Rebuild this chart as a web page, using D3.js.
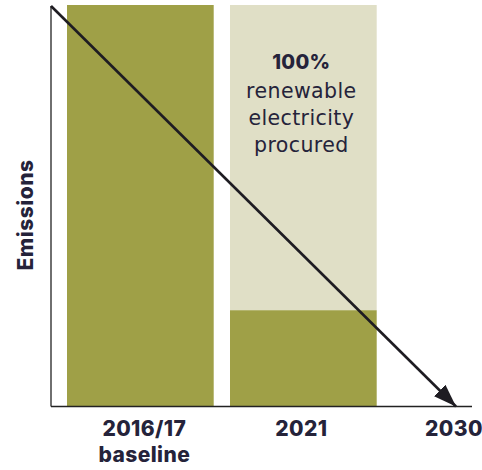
<!DOCTYPE html>
<html>
<head>
<meta charset="utf-8">
<script src="https://cdn.jsdelivr.net/npm/d3@7"></script>
<style>
  body { margin: 0; background: #fff; }
  text { font-family: "Inter", "Open Sans", sans-serif; fill: #25233a; }
</style>
</head>
<body>
<div id="chart"></div>
<script>
// data
var barCategories = ["2016/17", "2021"]
var emissionsLeft = [100, 24]      // remaining emissions (dark)
var renewableShare = [0, 76]       // covered by renewable electricity (light)
var tickLabels = [["2016/17", "baseline"], ["2021"], ["2030"]]
var arrowYears = [2016.5, 2030]
var arrowValues = [100, 0]

var width = 482,
    height = 470,
    left = 51,
    bottom = 406.5,
    plotTop = 5

var svg = d3.select("#chart")
            .append("svg")
            .attr("width", width)
            .attr("height", height)

var step = 163
var x = d3.scaleBand()
          .domain(barCategories)
          .range([67 - step * 0.05, 67 - step * 0.05 + step * 2])
          .paddingInner(0.1)
          .paddingOuter(0.05)

var y = d3.scaleLinear()
          .domain([0, 100])
          .range([bottom, plotTop])

var xYear = d3.scaleLinear()
              .domain(arrowYears)
              .range([left, 456])

// bars
var g = svg.append("g")
g.selectAll(".dark")
 .data(barCategories)
 .enter().append("rect")
 .attr("class", "dark")
 .attr("x", d => x(d))
 .attr("width", x.bandwidth())
 .attr("y", (d, i) => y(emissionsLeft[i]))
 .attr("height", (d, i) => y(0) - y(emissionsLeft[i]))
 .attr("fill", "#9fa047")

g.selectAll(".light")
 .data(barCategories)
 .enter().append("rect")
 .attr("class", "light")
 .attr("x", d => x(d))
 .attr("width", x.bandwidth())
 .attr("y", (d, i) => y(emissionsLeft[i] + renewableShare[i]))
 .attr("height", (d, i) => y(emissionsLeft[i]) - y(emissionsLeft[i] + renewableShare[i]))
 .attr("fill", "#e0dfc6")

// note inside 2021 bar
var cx = x("2021") + x.bandwidth() / 2 - 2
var note = svg.append("text").attr("text-anchor", "middle")
note.append("tspan").attr("x", cx).attr("y", 69).attr("font-size", "20px")
    .attr("font-weight", 800).attr("letter-spacing", 0.3).text("100%")
var noteLines = ["renewable", "electricity", "procured"]
noteLines.forEach(function(l, j) {
  note.append("tspan").attr("x", cx).attr("y", 98 + j * 26.8)
      .attr("font-size", "20.5px")
      .style("font-family", "DejaVu Sans")
      .attr("letter-spacing", 0.4).text(l)
})

// axes
svg.append("line")
   .attr("x1", left).attr("x2", left)
   .attr("y1", y(100) + 1).attr("y2", bottom)
   .attr("stroke", "#222").attr("stroke-width", 1.3)
svg.append("line")
   .attr("x1", left).attr("x2", 472)
   .attr("y1", bottom).attr("y2", bottom)
   .attr("stroke", "#222").attr("stroke-width", 1.3)

// tick labels
var labelX = [x("2016/17") + x.bandwidth() / 2 + 4, cx, xYear(2030) - 2]
tickLabels.forEach(function(lines, i) {
  var t = svg.append("text")
             .attr("text-anchor", "middle")
             .attr("font-size", "21px")
             .attr("font-weight", 800)
             .attr("letter-spacing", 0.4)
  lines.forEach(function(l, j) {
    t.append("tspan").attr("x", labelX[i]).attr("y", 436 + j * 26).text(l)
  })
})

svg.append("text")
   .attr("text-anchor", "middle")
   .attr("font-size", "21px")
   .attr("font-weight", 800)
   .attr("letter-spacing", 0.5)
   .attr("transform", "translate(33,215) rotate(-90)")
   .text("Emissions")

// arrow
svg.append("defs").append("marker")
   .attr("id", "head")
   .attr("viewBox", "0 0 10 10")
   .attr("refX", 10).attr("refY", 5)
   .attr("markerWidth", 8.8).attr("markerHeight", 6.2)
   .attr("markerUnits", "strokeWidth")
   .attr("orient", "auto")
   .attr("preserveAspectRatio", "none")
   .append("path")
   .attr("d", "M0,0 L10,5 L0,10 Z")
   .attr("fill", "#1e1c22")

svg.append("line")
   .attr("x1", xYear(arrowYears[0])).attr("y1", y(arrowValues[0]) + 1)
   .attr("x2", xYear(arrowYears[1])).attr("y2", y(arrowValues[1]))
   .attr("stroke", "#1e1c22")
   .attr("stroke-width", 2.6)
   .attr("marker-end", "url(#head)")
</script>
</body>
</html>
